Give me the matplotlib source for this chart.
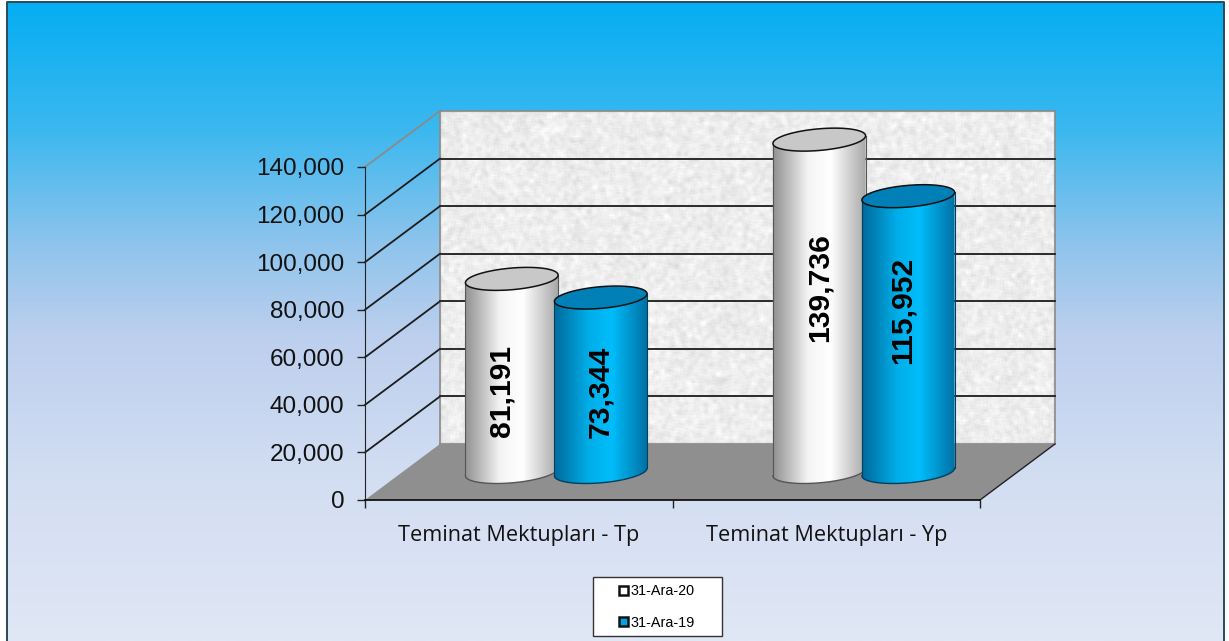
"""Two-series 3D style cylinder chart on a blue gradient panel, drawn with matplotlib."""

import matplotlib

matplotlib.use("Agg")
import matplotlib.pyplot as plt
import matplotlib.patches as mpatches
import numpy as np

W, H = 1229, 641

CATEGORIES = ["Teminat Mektupları - Tp", "Teminat Mektupları - Yp"]
SERIES_NAMES = ["31-Ara-20", "31-Ara-19"]
VALUES_2020 = [81191, 139736]
VALUES_2019 = [73344, 115952]
Y_TICKS = [0, 20000, 40000, 60000, 80000, 100000, 120000, 140000]

DEPTH = (75, -56)  # back wall offset, px
BAR_OFFSET = 44.5  # px either side of the group centre
RX, RY, TILT = 46.5, 10.8, np.radians(5)

BODY_COLORS = [
    ["#8e8e8e", "#f4f4f4", "#ffffff", "#a6a6a6"],
    ["#00689a", "#00aee8", "#00bdfb", "#006fa3"],
]
TOP_COLORS = ["#c8c8c8", "#0080b6"]
LEGEND_COLORS = ["#ffffff", "#00a4e4"]

# hand placement of the value labels relative to the cylinder middle, px
LABEL_SHIFT = {(0, 0): (-10, 15), (0, 1): (0, 7.5), (1, 0): (0, -18), (1, 1): (-6, -24)}


def lerp_colors(stops, pos, n):
    rgb = np.array([matplotlib.colors.to_rgb(c) for c in stops])
    t = np.linspace(0, 1, n)
    return np.stack([np.interp(t, pos, rgb[:, i]) for i in range(3)], axis=-1)


def ellipse_xy(cx, cy, t):
    x = cx + RX * np.cos(t) * np.cos(TILT) + RY * np.sin(t) * np.sin(TILT)
    y = cy + RY * np.sin(t) * np.cos(TILT) - RX * np.cos(t) * np.sin(TILT)
    return x, y


def cylinder(px, cx, y_top, y_base, series, z):
    # outline = lower half of base ellipse, then upper half of top ellipse
    t0 = np.arctan2(RY * np.sin(TILT), RX * np.cos(TILT))
    tb = np.linspace(t0, t0 + np.pi, 60)
    tt = np.linspace(t0 + np.pi, t0 + 2 * np.pi, 60)
    xb, yb = ellipse_xy(cx, y_base, tb)
    xt, yt = ellipse_xy(cx, y_top, tt)
    outline = np.column_stack([np.r_[xb, xt], np.r_[yb, yt]])
    patch = mpatches.Polygon(outline, closed=True, facecolor="none", edgecolor="none", zorder=z)
    px.add_patch(patch)

    grad = lerp_colors(BODY_COLORS[series], [0, 0.38, 0.62, 1], 128)[None, :, :]
    im = px.imshow(
        grad,
        extent=(cx - RX - 1, cx + RX + 1, y_base + 20, y_top - 20),
        aspect="auto",
        zorder=z,
    )
    im.set_clip_path(patch)

    line = "#555555" if series == 0 else "#03405c"
    px.plot(xb, yb, color=line, lw=1.0, zorder=z + 0.1)
    px.plot([xb[0], xt[-1]], [yb[0], yt[-1]], color=line, lw=0.8, zorder=z + 0.1)
    px.plot([xb[-1], xt[0]], [yb[-1], yt[0]], color=line, lw=0.8, zorder=z + 0.1)
    t = np.linspace(0, 2 * np.pi, 120)
    xe, ye = ellipse_xy(cx, y_top, t)
    px.fill(xe, ye, facecolor=TOP_COLORS[series], edgecolor="#111111", lw=1.1, zorder=z + 0.2)


def main():
    fig = plt.figure(figsize=(W / 100, H / 100), dpi=100, facecolor="white")

    # pixel canvas for the panel and the 3D walls
    px = fig.add_axes([0, 0, 1, 1])
    px.set_xlim(0, W)
    px.set_ylim(H, 0)
    px.axis("off")

    grad = lerp_colors(
        ["#05aef3", "#3cb8ef", "#8fc4ec", "#bccfee", "#d3def2", "#e0e7f5"],
        [0, 0.2, 0.38, 0.52, 0.75, 1],
        256,
    )[:, None, :]
    px.imshow(grad, extent=(7, 1224, H, 2), aspect="auto", zorder=0)
    px.plot([7, 7, 1224, 1224], [H, 2, 2, H], color="#2b4a57", lw=1.4, zorder=1)

    # front plane carries the real value scale and the category ticks
    left, right, top, bottom = 365, 980, 167, 500
    ax = fig.add_axes([left / W, 1 - bottom / H, (right - left) / W, (bottom - top) / H])
    ax.patch.set_alpha(0)
    ax.set_xlim(0, len(CATEGORIES))
    ax.set_ylim(0, Y_TICKS[-1])
    ax.set_yticks(Y_TICKS)
    ax.set_yticklabels([f"{v:,}" for v in Y_TICKS], fontsize=17.5, family="Liberation Sans", color="#111111")
    ax.set_xticks(range(len(CATEGORIES) + 1))
    ax.set_xticklabels([])
    for i, name in enumerate(CATEGORIES):
        ax.text(i + 0.5, -0.107, name, transform=ax.get_xaxis_transform(), ha="center", va="center",
                fontsize=15.6, family="Open Sans", color="#111111")
    ax.tick_params(axis="both", length=6, width=1.0, color="#222222", pad=9)
    ax.spines["top"].set_visible(False)
    ax.spines["right"].set_visible(False)
    ax.spines["left"].set_color("#222222")
    ax.spines["bottom"].set_color("#111111")
    ax.spines["bottom"].set_linewidth(1.3)

    def to_px(x, y):
        return px.transData.inverted().transform(ax.transData.transform((x, y)))

    x0, y0 = to_px(0, 0)
    x1, y_max = to_px(len(CATEGORIES), Y_TICKS[-1])
    dx, dy = DEPTH

    # speckled back wall, deterministic hash noise
    yy, xx = np.mgrid[0:333, 0:616]
    noise = np.modf(np.abs(np.sin(xx * 12.9898 + yy * 78.233)) * 43758.5453)[0]
    kernel = np.ones(5) / 5
    noise = np.apply_along_axis(lambda r: np.convolve(r, kernel, mode="same"), 0, noise)
    noise = np.apply_along_axis(lambda r: np.convolve(r, kernel, mode="same"), 1, noise)
    wall = np.clip(0.93 + (noise - 0.5) * 0.34, 0, 1)
    px.imshow(wall, cmap="gray", vmin=0, vmax=1, aspect="auto", zorder=1,
              extent=(x0 + dx, x1 + dx, y0 + dy, y_max + dy))
    px.plot([x0 + dx, x0 + dx, x1 + dx, x1 + dx, x0 + dx],
            [y0 + dy, y_max + dy, y_max + dy, y0 + dy, y0 + dy], color="#8a8a8a", lw=1.2, zorder=2)

    # floor
    px.add_patch(mpatches.Polygon(
        [(x0, y0), (x0 + dx, y0 + dy), (x1 + dx, y0 + dy), (x1, y0)],
        closed=True, facecolor="#8f8f8f", edgecolor="none", zorder=2))
    px.plot([x1, x1 + dx], [y0, y0 + dy], color="#222222", lw=1.0, zorder=2)

    # gridlines on side and back walls
    for v in Y_TICKS[1:]:
        _, y = to_px(0, v)
        c = "#8a8a8a" if v == Y_TICKS[-1] else "#1c1c1c"
        px.plot([x0, x0 + dx], [y, y + dy], color=c, lw=1.3, zorder=3)
        if v != Y_TICKS[-1]:
            px.plot([x0 + dx, x1 + dx], [y + dy, y + dy], color="#2a2a2a", lw=1.4, zorder=3)

    # cylinders stand halfway into the depth
    for i in range(len(CATEGORIES)):
        group_x, _ = to_px(i + 0.5, 0)
        for s, vals in enumerate([VALUES_2020, VALUES_2019]):
            _, y_top = to_px(0, vals[i])
            cx = group_x + dx / 2 + (2 * s - 1) * BAR_OFFSET
            y_base = y0 + dy / 2
            y_top = y_top + dy / 2
            cylinder(px, cx, y_top, y_base, s, 4 + s)
            sx, sy = LABEL_SHIFT[(i, s)]
            px.text(cx + sx, (y_top + y_base) / 2 + sy, f"{vals[i]:,}", rotation=90,
                    ha="center", va="center", fontsize=21.6, fontweight="bold",
                    family="Liberation Sans", color="black", zorder=7)

    # legend frame is wider than its entries, so it is drawn separately
    px.add_patch(mpatches.Rectangle((593, 577), 129, 59, facecolor="white", edgecolor="#333333",
                                    lw=1.0, zorder=8))
    px.set_xlim(0, W)
    px.set_ylim(H, 0)

    handles = [
        mpatches.Patch(facecolor=c, edgecolor="#111111", linewidth=1.8, label=n)
        for c, n in zip(LEGEND_COLORS, SERIES_NAMES)
    ]
    leg = fig.legend(
        handles=handles,
        loc="center",
        bbox_to_anchor=(657 / W, 1 - 607 / H),
        ncol=1,
        prop={"family": "Liberation Sans", "size": 10.4},
        frameon=False,
        handlelength=0.62,
        handleheight=0.62,
        handletextpad=0.2,
        labelspacing=1.2,
        borderpad=0,
        borderaxespad=0,
    )
    leg.set_zorder(20)

    fig.savefig("out.png", dpi=100, facecolor="white")
    plt.close(fig)


if __name__ == "__main__":
    main()
